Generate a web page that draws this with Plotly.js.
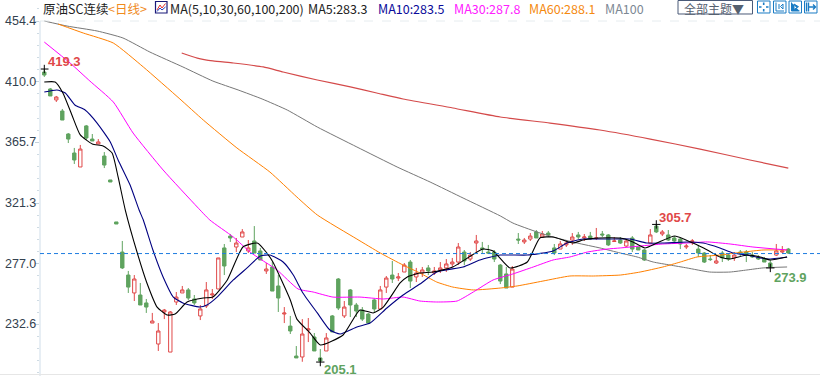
<!DOCTYPE html>
<html><head><meta charset="utf-8">
<script src="https://cdn.plot.ly/plotly-3.0.1.min.js"></script>
<style>html,body{margin:0;padding:0;background:#fff}#c{width:820px;height:376px}</style>
</head><body><div id="c"></div>
<script>
const opens=[417.1,404.7,396.7,388.6,371.8,357.9,347.7,377.7,368.1,364.5,355.7,338.2,307.5,285.5,268.7,255.6,254.1,248.3,233.6,218.3,241.7,212.4,249.0,255.6,257.8,251.2,238.8,246.1,254.1,258.5,288.5,297.2,289.2,296.5,286.3,293.6,286.3,271.7,274.6,260.7,240.2,231.4,209.5,208.8,228.5,223.4,208.1,213.2,238.8,265.8,238.8,257.8,246.8,243.1,240.2,250.5,243.9,259.9,268.7,266.5,270.9,278.2,267.3,270.2,273.9,270.2,272.4,273.9,276.8,278.2,285.5,280.4,292.1,288.5,285.5,285.5,276.0,269.5,259.9,295.0,292.9,295.0,300.2,296.5,299.4,288.5,287.7,290.7,294.3,298.0,295.8,297.2,295.4,298.7,298.0,293.2,294.3,289.9,295.8,289.2,287.0,292.1,304.5,298.7,298.0,295.8,295.0,289.2,293.2,287.7,284.8,280.4,277.5,284.8,283.3,281.2,285.5,285.5,283.3,281.9,280.4,277.5,283.3,285.5,287.7];
const highs=[419.3,405.4,399.6,390.1,372.5,361.6,363.8,378.4,371.8,368.1,358.6,338.2,307.5,293.6,271.7,268.7,262.9,251.2,241.0,233.6,243.9,242.4,256.3,260.7,259.2,254.1,246.8,263.6,258.5,281.2,291.4,298.7,295.8,302.3,294.3,304.5,288.5,277.5,278.2,268.7,245.3,238.8,216.8,236.5,237.3,226.3,214.6,226.3,239.5,266.5,249.7,258.5,248.3,245.3,240.9,251.2,260.7,268.0,279.0,270.2,277.5,279.7,273.9,274.6,276.0,274.6,278.2,280.4,281.2,292.1,287.0,285.5,298.0,292.9,290.7,287.0,276.8,274.6,275.3,299.4,295.8,299.4,301.6,300.9,300.9,291.4,293.6,294.3,299.4,300.2,298.7,300.2,303.1,300.9,298.7,296.5,296.5,295.0,297.2,289.2,287.7,302.3,305.7,301.6,301.6,297.2,295.8,291.4,295.0,290.7,285.5,283.3,282.6,286.3,284.8,285.5,287.0,287.0,285.5,283.3,281.9,279.7,291.4,289.9,288.5];
const lows=[413.5,399.6,395.2,382.0,365.2,349.9,347.7,367.4,366.7,364.5,346.9,336.7,306.0,273.1,255.6,249.7,246.8,241.0,233.6,213.2,236.5,212.4,246.8,255.6,250.5,246.8,235.8,244.6,251.2,258.5,268.7,292.9,285.5,296.5,284.8,284.8,279.7,269.5,257.0,241.7,233.6,225.6,208.1,205.3,219.7,213.2,205.1,213.2,227.1,243.1,237.3,238.0,238.0,235.1,232.9,241.0,243.9,255.6,262.9,264.3,270.9,259.2,263.6,267.3,268.7,268.7,270.2,270.9,274.6,276.0,276.0,279.0,285.5,284.8,284.1,278.2,262.1,259.2,259.9,291.4,291.4,293.6,295.8,295.8,296.5,283.3,287.7,289.2,290.7,295.0,293.6,294.3,294.3,296.5,289.9,292.9,291.4,289.2,285.5,287.0,279.0,292.1,299.4,297.2,293.6,291.4,287.7,287.7,290.7,281.9,277.5,279.0,276.8,278.2,279.0,279.0,282.6,278.2,281.2,279.7,278.2,273.9,282.6,284.8,284.1];
const closes=[414.9,399.6,398.8,382.0,368.1,352.8,360.8,368.9,366.7,366.0,349.1,336.7,306.0,273.9,259.9,265.8,246.8,245.3,235.1,227.8,243.1,241.7,252.6,257.8,251.9,248.3,243.9,257.8,254.8,281.2,275.3,295.8,292.1,300.2,288.5,284.8,279.7,273.1,257.0,251.9,240.9,227.8,208.1,225.6,229.3,213.2,205.9,222.7,227.1,244.6,245.3,246.8,242.4,236.5,233.6,243.9,257.8,266.5,265.8,267.3,276.0,264.3,270.2,272.4,271.7,271.7,273.9,276.8,278.2,289.2,279.0,283.3,293.6,287.7,284.8,280.4,264.3,259.2,273.1,294.3,294.3,297.2,295.8,298.7,298.0,284.8,291.4,292.1,296.5,296.5,296.5,295.0,295.8,298.0,290.7,293.6,292.1,293.6,287.7,287.0,279.7,298.0,300.2,300.2,294.3,293.6,291.4,289.9,293.6,284.8,278.2,280.0,279.0,281.2,280.4,283.3,284.8,283.3,281.9,280.4,278.2,274.6,286.3,286.3,284.8];

const ma5X=[0,1.8,3.1,4.6,6,8,9.8,11.3,12.3,13.5,15.5,17.1,18.8,20.5,21.8,23.8,26.5,28.1,30.5,33.1,35.5,37.1,38.1,41,42.1,44.3,46,49.8,52.6,54.8,56.5,59.3,60.5,62.6,64.8,68.1,73.1,74.8,77.6,80.5,82.6,84.8,88.1,89.8,92.1,96,98.1,100.1,102.1,105.1,108.1,110.5,112.6,114.3,117.1,119.3,121,123.8];
const ma5Y=[409.8,409.8,401.8,385.7,371.1,364.5,363.0,357.9,340.4,316.2,284.8,262.9,245.3,239.5,240.2,249.0,251.9,252.6,265.1,289.2,292.1,284.8,278.2,250.5,236.5,226.3,217.6,224.9,243.1,241.0,245.3,262.9,267.3,270.2,270.9,274.6,287.7,286.3,273.9,278.2,295.8,296.5,292.1,294.3,295.8,295.8,292.9,288.5,292.1,297.2,292.1,287.0,281.9,280.4,283.3,281.9,279.7,281.9];
const ma10X=[0,2.1,3.5,5.1,6.8,8.8,11,12.3,14.3,15.8,16.5,18.1,19.8,21.5,23.1,25.9,27.1,28.8,31.5,33.8,36,37.6,39.8,41.5,43.1,45.5,47.6,49.3,52.1,54.3,57.1,59.8,62.6,65.4,69.8,72.6,76,80.5,84.8,87.1,89.8,93.8,97.6,100.4,103.1,107.1,109.8,112.6,114.8,117.1,120.5,123.8];
const ma10Y=[402.5,404.0,401.8,393.0,389.3,379.8,366.0,352.8,334.5,316.2,308.9,287.0,267.3,252.6,248.3,245.3,246.8,252.6,265.1,273.9,282.6,283.3,278.2,268.7,255.6,241.0,228.5,225.6,230.7,233.6,244.6,254.1,262.1,270.9,274.6,279.7,283.3,283.3,286.3,292.1,295.0,295.0,295.0,292.1,292.1,292.9,292.1,288.5,284.8,283.3,280.4,281.9];
const ma30X=[0,4.3,7.6,11.5,14.8,19.8,25.5,27.6,31.5,34.3,36,38.8,42.3,44.8,48.1,52.6,56.5,59.8,62.6,65.4,68.8,71.5,74.8,78.1,81.5,84.8,87.6,90.5,93.8,96,99.3,103.1,107.1,110.5,114.3,118.1,123.8];
const ma30Y=[439.0,423.7,410.5,395.2,372.5,345.5,318.4,308.9,296.5,285.5,280.4,272.4,258.5,256.3,252.6,252.6,251.2,252.6,249.7,249.0,249.7,256.3,265.1,269.5,274.6,279.7,281.9,285.5,287.7,288.5,289.9,291.4,292.1,292.9,291.4,289.2,287.0];
const ma60X=[2.3,6.5,11.5,16.5,22.6,26.5,32.1,37.6,42.1,45.5,52.1,56,59.8,62.6,65.4,68.1,71.5,76,78.8,83.1,87.6,91.5,96,99.3,103.1,106,108.8,112.6,116.5,119.8,123.8];
const ma60Y=[452.2,445.6,438.3,420.8,397.4,382.0,361.6,344.0,325.7,312.6,295.0,284.8,276.0,270.2,263.6,259.9,257.8,259.2,260.7,264.3,268.0,268.0,268.7,270.9,274.6,278.2,281.9,283.3,285.5,287.0,287.0];
const ma100X=[0,3.8,8.8,13.1,17.6,23.1,28.1,32.3,36.3,40.5,45.5,52.1,58.8,64.3,69.8,76,78.1,82.1,84.8,88.8,92.6,96,98.8,101.5,104.3,107.1,110.9,114.3,117.1,119.8,123.8];
const ma100Y=[454.4,450.7,447.1,442.0,431.7,420.8,410.5,404.0,397.4,389.3,376.9,362.3,347.7,336.7,325.0,311.9,306.7,300.2,296.5,292.1,288.5,284.8,281.9,278.2,276.0,273.9,270.9,270.9,272.4,273.9,274.6];
const ma200X=[22.9,25.5,28.1,31.5,36.5,39.8,45.5,51,55.4,59.8,68.1,76,84.3,92.6,101,109.3,117.6,124];
const ma200Y=[431.0,427.3,425.2,423.7,420.8,417.1,411.3,406.2,401.8,397.4,390.8,384.2,379.8,374.7,368.1,360.8,352.8,346.9];

const extremeX=[0,46,102,121];
const extremeY=[419.3,205.1,305.7,273.9];
const lastPrice=284.4;
const yTicks=[454.4,410.0,365.7,321.3,277.0,232.6];
const yTickText=['454.4','410.0','365.7','321.3','277.0','232.6'];
const headerItems=[
 ['原油SC连续',42,'#222'],['&lt;日线&gt;',107,'#f08a1c'],
 ['MA(5,10,30,60,100,200)',169,'#222'],['MA5:283.3',307,'#222'],
 ['MA10:283.5',377,'#0a0a9a'],['MA30:287.8',453,'#ff20ff'],
 ['MA60:288.1',528,'#f58a10'],['MA100',604,'#7d8894']];

const W=820,H=376,L=40;
const RED='#e04848',GREEN='#5fa35f';
const px=x=>(x-L)/(W-L), py=y=>1-y/H;
const path=s=>s.replace(/(-?[\d.]+),(-?[\d.]+)/g,(m,a,b)=>px(+a).toFixed(5)+','+py(+b).toFixed(5));
const pShape=(d,color,fill,w)=>({type:'path',xref:'paper',yref:'paper',path:path(d),line:{color:color,width:w===undefined?1:w},fillcolor:fill||'rgba(0,0,0,0)'});
const lShape=(x0,y0,x1,y1,color,dash,w)=>({type:'line',xref:'paper',yref:'paper',x0:px(x0),x1:px(x1),y0:py(y0),y1:py(y1),line:{color:color,dash:dash||'solid',width:w||1}});

const idx=opens.map((_,i)=>i);
const line=(x,y,color,w)=>({type:'scatter',mode:'lines',x:x,y:y,line:{color:color,width:w||1,shape:'spline',smoothing:0.5},hoverinfo:'skip',showlegend:false});
const traces=[
 {type:'candlestick',x:idx,open:opens,high:highs,low:lows,close:closes,whiskerwidth:0,
  increasing:{line:{color:RED,width:1},fillcolor:'#ffffff'},
  decreasing:{line:{color:GREEN,width:1},fillcolor:GREEN},hoverinfo:'skip',showlegend:false},
 line(ma200X,ma200Y,'#d44a4a',1.2),line(ma100X,ma100Y,'#777777',1),line(ma60X,ma60Y,'#ff8000',1),
 line(ma30X,ma30Y,'#ff00ff',1),line(ma10X,ma10Y,'#000080',1.1),line(ma5X,ma5Y,'#000000',1.1),
 {type:'scatter',mode:'markers',x:extremeX,y:extremeY,marker:{symbol:'cross-thin',size:6,line:{color:'#000',width:1}},hoverinfo:'skip',showlegend:false}
];

const ann=[];
headerItems.forEach(h=>ann.push({xref:'paper',yref:'paper',x:px(h[1]),y:py(9),xanchor:'left',yanchor:'middle',text:h[0],showarrow:false,borderpad:0,
  font:{family:'"Noto Sans CJK SC","Noto Sans",sans-serif',size:12.5,color:h[2]}}));
ann.push({xref:'paper',yref:'paper',x:px(714),y:py(8),xanchor:'center',yanchor:'middle',text:'全部主题▼',showarrow:false,borderpad:0,
  font:{family:'"Noto Sans CJK SC",sans-serif',size:12,color:'#55606f'}});
[['419.3',64,61,RED],['205.1',340,369,GREEN],['305.7',675,217,RED],['273.9',790,277,GREEN]].forEach(a=>
 ann.push({xref:'paper',yref:'paper',x:px(a[1]),y:py(a[2]),xanchor:'center',yanchor:'middle',text:a[0],showarrow:false,borderpad:0,
  font:{family:'"Liberation Sans",Arial,sans-serif',size:13,color:a[3],weight:700}}));
yTicks.forEach((v,i)=>ann.push({xref:'paper',yref:'y',x:px(37),y:v,xanchor:'right',yanchor:'middle',text:yTickText[i],showarrow:false,borderpad:0,
  font:{family:'"Liberation Sans",Arial,sans-serif',size:12.5,color:'#33414f'}}));

const BL='#1a7cc4';
const shapes=[
 lShape(40,21,820,21,'#e6ecef','dash'),
 lShape(40,21,40,376,'#dfe9f0',null,1.5),
 lShape(0,374.5,820,374.5,'#e6e6e6'),
 {type:'line',xref:'paper',yref:'y',x0:0,x1:1,y0:lastPrice,y1:lastPrice,line:{color:'#1e7ce0',width:1,dash:'4px,3px'}},
 pShape('M678,0.5 L752.5,0.5 L752.5,14 L678,14 Z','#4a5a78'),
 pShape('M155.5,1.5 L167,1.5 L167,13 L155.5,13 Z','#1a1a7a','#ffffff',1.2),
 pShape('M157,10 L160,5 L162,8 L165.5,3.5','#e03030'),
 pShape('M157,11.5 L160,8 L162,10 L165.5,7','#2040c0'),
 pShape('M757.5,1 L770,1 L770,13 L757.5,13 Z',BL),pShape('M773.5,1 L786,1 L786,13 L773.5,13 Z',BL),
 pShape('M789,1 L801.5,1 L801.5,13 L789,13 Z',BL),pShape('M804.5,1 L817,1 L817,13 L804.5,13 Z',BL),
 pShape('M763.7,2.5 L763.7,5 M763.7,9 L763.7,11.5 M759,7 L761.5,7 M766,7 L768.5,7',BL,null,1.6),
 pShape('M776,2.5 L776,11 L784,11 M779,4 L779,9 M783,4 L783,9 L780.5,6.5 Z',BL),
 pShape('M791.5,2.5 L791.5,11 L799.5,11 M794,4 L794,9.5 L798.5,6.7 Z',BL,BL),
 pShape('M806.5,2.5 L806.5,11.5 M808.5,2.5 L808.5,11.5 M809,7 L815.5,7 M813,4.5 L815.5,7 L813,9.5',BL,null,1.4)
];

Plotly.newPlot('c',traces,{
 width:W,height:H,margin:{l:L,r:0,t:0,b:0},paper_bgcolor:'#fff',plot_bgcolor:'#fff',showlegend:false,hovermode:false,dragmode:false,boxgap:0.2,
 xaxis:{type:'linear',range:[-0.717,129.283],visible:false,rangeslider:{visible:false},fixedrange:true},
 yaxis:{range:[194.9,469.75],tickmode:'array',tickvals:yTicks,ticks:'outside',ticklen:4,tickcolor:'#c4d2dc',tickwidth:1,showticklabels:false,
  showgrid:false,zeroline:false,showline:false,fixedrange:true,
  minor:{ticks:'outside',ticklen:2,tickcolor:'#cfdbe3',tickwidth:1,tickmode:'linear',tick0:232.6,dtick:8.87,showgrid:false}},
 annotations:ann,shapes:shapes
},{displayModeBar:false,staticPlot:true});
</script></body></html>
